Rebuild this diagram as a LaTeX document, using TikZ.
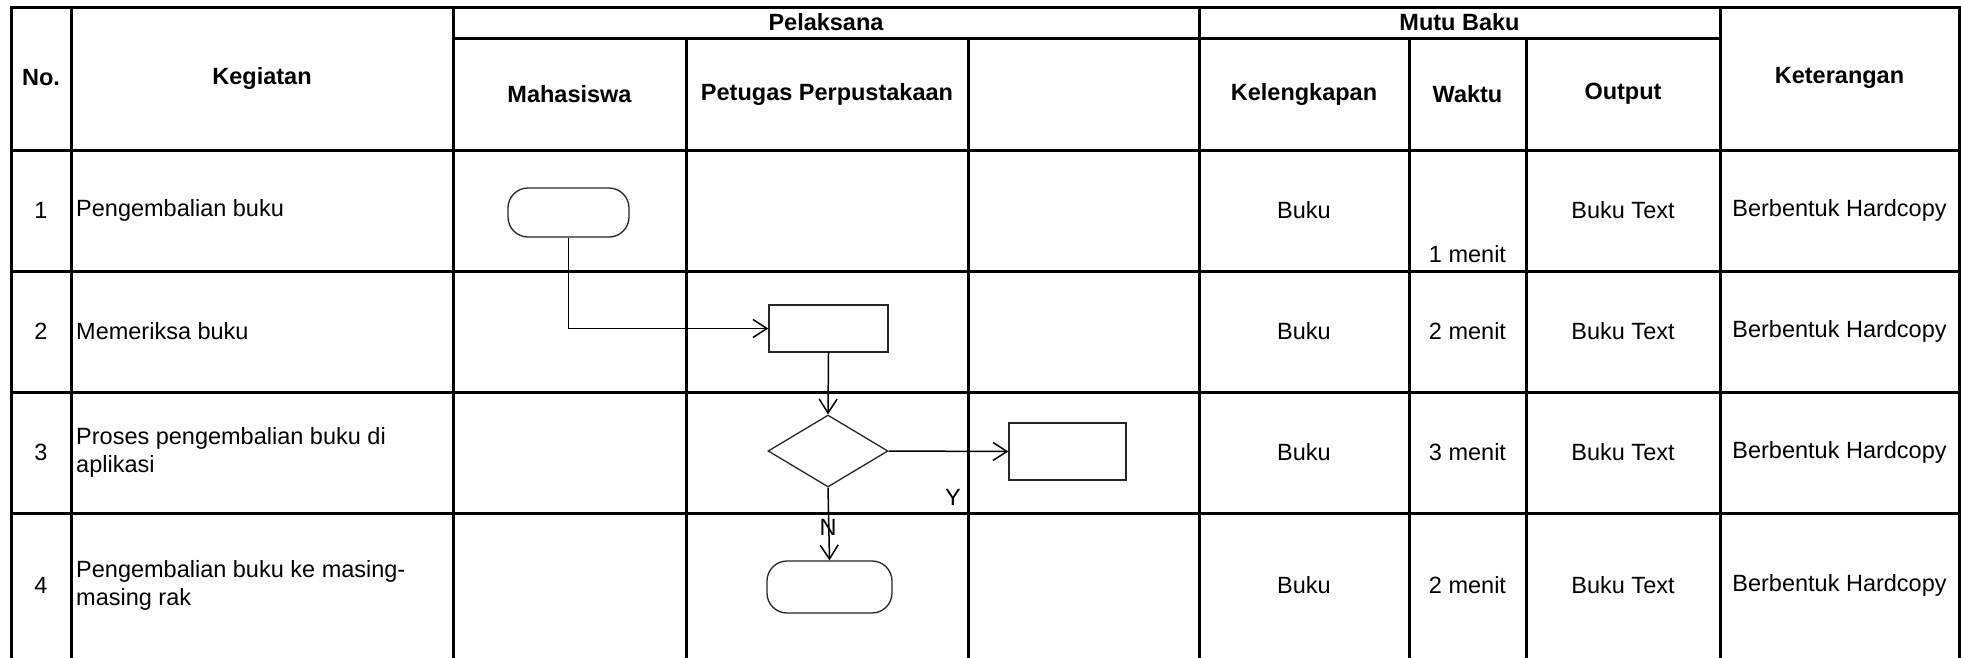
\documentclass[tikz,border=0pt]{standalone}
\usepackage{fontspec}
\setmainfont{Liberation Sans}
\usetikzlibrary{arrows.meta,shapes.geometric}
\begin{document}
\begin{tikzpicture}[x=1pt,y=-1pt,
  grid/.style={line width=3pt,line cap=rect},
  txt/.style={font=\fontsize{23.5}{28}\selectfont,inner sep=0pt},
  hdr/.style={txt,font=\fontsize{23.5}{28}\selectfont\bfseries},
  keg/.style={txt,anchor=west,align=left},
  shp/.style={draw=black!85,line width=1.3pt,fill=white,inner sep=0pt},
  term/.style={shp,rectangle,rounded corners=20pt},
  proc/.style={shp,rectangle},
  dec/.style={shp,diamond},
  arr/.style={line width=1.5pt,-{Straight Barb[length=14pt,width=18pt,line width=1.5pt]}}
]
\useasboundingbox (0,0) rectangle (1961,657);
% table grid
\draw[grid] (11,657) -- (11,7) -- (1959,7) -- (1959,657);
\foreach \y in {150,271,392,513} \draw[grid] (11,\y) -- (1959,\y);
\draw[grid] (453,38) -- (1720,38);
\foreach \x in {71,453,1199,1720} \draw[grid] (\x,7) -- (\x,657);
\foreach \x in {686,968,1409,1526} \draw[grid] (\x,38) -- (\x,657);
% header texts
\node[hdr] (hno) at (41,78) {No.};
\node[hdr] (hkeg) at (262,78) {Kegiatan};
\node[hdr] (hpel) at (826,22) {Pelaksana};
\node[hdr] (hmut) at (1459.5,22) {Mutu Baku};
\node[hdr] (hket) at (1839.5,78) {Keterangan};
\node[hdr] (hmhs) at (569.5,94) {Mahasiswa};
\node[hdr] (hpet) at (827,94) {Petugas Perpustakaan};
\node[hdr] (hkel) at (1304,94) {Kelengkapan};
\node[hdr] (hwak) at (1467.5,94) {Waktu};
\node[hdr] (hout) at (1623,94) {Output};
% row 1
\node[txt] (n1) at (41,210.5) {1};
\node[keg] (k1) at (76,210.5) {Pengembalian buku};
\node[txt] (l1) at (1304,210.5) {Buku};
\node[txt] (w1) at (1467.5,254) {1 menit};
\node[txt] (o1) at (1623,210.5) {Buku Text};
\node[txt] (e1) at (1839.5,210.5) {Berbentuk Hardcopy};
% row 2
\node[txt] (n2) at (41,331.5) {2};
\node[keg] (k2) at (76,331.5) {Memeriksa buku};
\node[txt] (l2) at (1304,331.5) {Buku};
\node[txt] (w2) at (1467.5,331.5) {2 menit};
\node[txt] (o2) at (1623,331.5) {Buku Text};
\node[txt] (e2) at (1839.5,331.5) {Berbentuk Hardcopy};
% row 3
\node[txt] (n3) at (41,452.5) {3};
\node[keg] (k3) at (76,452.5) {Proses pengembalian buku di\\aplikasi};
\node[txt] (l3) at (1304,452.5) {Buku};
\node[txt] (w3) at (1467.5,452.5) {3 menit};
\node[txt] (o3) at (1623,452.5) {Buku Text};
\node[txt] (e3) at (1839.5,452.5) {Berbentuk Hardcopy};
% row 4
\node[txt] (n4) at (41,585) {4};
\node[keg] (k4) at (76,585) {Pengembalian buku ke masing-\\masing rak};
\node[txt] (l4) at (1304,585) {Buku};
\node[txt] (w4) at (1467.5,585) {2 menit};
\node[txt] (o4) at (1623,585) {Buku Text};
\node[txt] (e4) at (1839.5,585) {Berbentuk Hardcopy};
% flow shapes
\node[term,minimum width=121pt,minimum height=49pt] (t1) at (568.5,212.5) {};
\node[proc,minimum width=119pt,minimum height=47pt] (b1) at (828.5,328.5) {};
\node[dec,minimum width=120pt,minimum height=72pt] (d1) at (828,451) {};
\node[proc,minimum width=117pt,minimum height=57pt] (b2) at (1067.5,451.5) {};
\node[term,minimum width=125pt,minimum height=52pt] (t2) at (829.5,587) {};
% connectors
\draw[arr] (t1.south) |- (b1.west);
\draw[arr] (b1.south) -- (d1.north);
\draw[arr] (d1.east) -- (b2.west);
\draw[arr] (d1.south) -- (t2.north);
\node[txt] (ly) at (953,497) {Y};
\node[txt] (ln) at (828,527) {N};
\end{tikzpicture}
\end{document}
